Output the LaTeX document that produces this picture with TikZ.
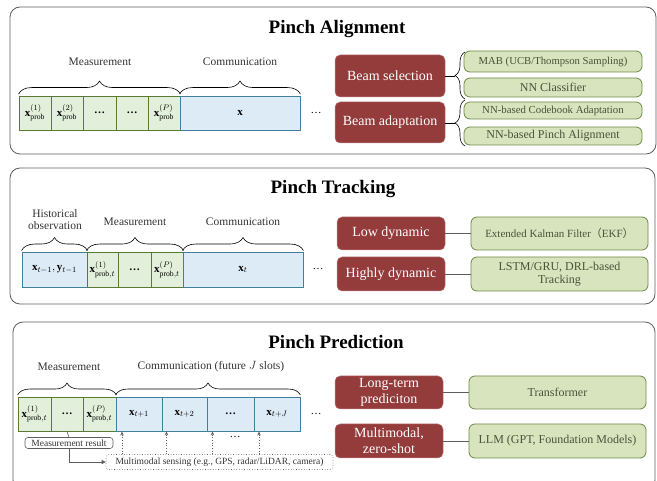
\documentclass[tikz,border=0pt]{standalone}
\usepackage{fontspec}
\setmainfont{Liberation Serif}
\newfontfamily\cjk{Noto Sans CJK SC}
\usetikzlibrary{decorations.pathreplacing,arrows.meta}
\definecolor{gcellfill}{HTML}{E2EFDA}
\definecolor{gcellborder}{HTML}{5A7A32}
\definecolor{bcellfill}{HTML}{DDEBF7}
\definecolor{bcellborder}{HTML}{41809B}
\definecolor{redfill}{HTML}{943B3B}
\definecolor{redborder}{HTML}{C08080}
\definecolor{gboxfill}{HTML}{D7E4BD}
\definecolor{gboxborder}{HTML}{6F8A47}
\definecolor{gboxtext}{HTML}{48543A}
\definecolor{framegray}{HTML}{5E5E5E}
\definecolor{lblgray}{HTML}{333333}
\begin{document}
\begin{tikzpicture}[x=1pt,y=-1pt,
  panel/.style={draw=framegray,line width=0.8pt,rounded corners=10pt},
  ptitle/.style={font=\fontsize{19}{22}\selectfont\bfseries},
  gcell/.style={draw=gcellborder,fill=gcellfill,line width=0.9pt,inner sep=0pt,minimum height=34pt,font=\fontsize{11}{13}\selectfont},
  bcell/.style={draw=bcellborder,fill=bcellfill,line width=0.9pt,inner sep=0pt,minimum height=34pt,font=\fontsize{11}{13}\selectfont},
  lbl/.style={font=\fontsize{11.5}{14}\selectfont,text=lblgray,align=center},
  dotsl/.style={font=\fontsize{11}{13}\selectfont},
  tbrace/.style={decorate,decoration={brace,amplitude=13pt},line width=0.6pt},
  rbrace/.style={decorate,decoration={brace,amplitude=10pt},line width=0.6pt},
  redbox/.style={fill=redfill,draw=redborder,line width=0.5pt,rounded corners=5pt,text=white,align=center,inner sep=1pt,font=\fontsize{14}{16}\selectfont},
  gbox/.style={fill=gboxfill,draw=gboxborder,line width=0.8pt,rounded corners=6pt,text=gboxtext,align=center,inner sep=1pt},
  conn/.style={draw=framegray,line width=0.8pt},
  smallbox/.style={draw=framegray,line width=0.6pt,rounded corners=3pt,inner sep=1pt,font=\fontsize{9.5}{11}\selectfont,text=lblgray},
  dotarrow/.style={draw=framegray,dotted,line width=0.7pt,-{Stealth[length=4pt,width=3.5pt]}}
]
\clip (0,0) rectangle (657,481);
\useasboundingbox (0,0) rectangle (657,481);

% ===== Panel 1 =====
\draw[panel] (10,7) rectangle (656,154);
\node[ptitle] (t1) at (337,29) {Pinch Alignment};
\node[gcell,minimum width=32pt] (a1) at (35,113) {$\mathbf{x}^{(1)}_{\mathrm{prob}}$};
\node[gcell,minimum width=32pt] (a2) at (67,113) {$\mathbf{x}^{(2)}_{\mathrm{prob}}$};
\node[gcell,minimum width=33pt] (a3) at (99.5,113) {\textbf{…}};
\node[gcell,minimum width=32pt] (a4) at (132,113) {\textbf{…}};
\node[gcell,minimum width=32pt] (a5) at (164,113) {$\mathbf{x}^{(P)}_{\mathrm{prob}}$};
\node[bcell,minimum width=120pt] (a6) at (240,113) {$\mathbf{x}$};
\node[dotsl] (ad) at (316,113) {…};
\draw[tbrace] ([yshift=1.5pt]a1.north west) -- ([yshift=1.5pt]a5.north east);
\draw[tbrace] ([yshift=1.5pt]a6.north west) -- ([yshift=1.5pt]a6.north east);
\node[lbl] (am) at (100,62) {Measurement};
\node[lbl] (ac) at (240,62) {Communication};

\node[redbox,minimum width=110pt,minimum height=42pt] (bs) at (390,76) {Beam selection};
\node[redbox,minimum width=110pt,minimum height=41pt] (ba) at (390,122.5) {Beam adaptation};
\node[gbox,minimum width=178pt,minimum height=21pt,font=\fontsize{10.7}{12}\selectfont] (g1) at (553,61.5) {MAB (UCB/Thompson Sampling)};
\node[gbox,minimum width=178pt,minimum height=19pt,font=\fontsize{12}{14}\selectfont] (g2) at (553,87.5) {NN Classifier};
\node[gbox,minimum width=178pt,minimum height=17pt,font=\fontsize{10.8}{12}\selectfont] (g3) at (553,110.5) {NN-based Codebook Adaptation};
\node[gbox,minimum width=178pt,minimum height=18pt,font=\fontsize{12}{14}\selectfont] (g4) at (553,136) {NN-based Pinch Alignment};
\draw[rbrace] (465,99) -- (465,52);
\draw[rbrace] (465,146) -- (465,100);
\coordinate (bt1) at (455,76);
\coordinate (bt2) at (455,123);
\draw[line width=0.6pt] (bs.east) -- (bt1);
\draw[line width=0.6pt] (ba.east |- bt2) -- (bt2);

% ===== Panel 2 =====
\draw[panel] (10,168) rectangle (655,304);
\node[ptitle] (t2) at (333,189) {Pinch Tracking};
\node[bcell,minimum width=65pt,minimum height=35pt] (h1) at (54.5,269.5) {$\mathbf{x}_{t-1},\mathbf{y}_{t-1}$};
\node[gcell,minimum width=31pt,minimum height=35pt] (h2) at (102.5,269.5) {$\mathbf{x}^{(1)}_{\mathrm{prob},t}$};
\node[gcell,minimum width=33pt,minimum height=35pt] (h3) at (134.5,269.5) {\textbf{…}};
\node[gcell,minimum width=32pt,minimum height=35pt] (h4) at (167,269.5) {$\mathbf{x}^{(P)}_{\mathrm{prob},t}$};
\node[bcell,minimum width=120pt,minimum height=35pt] (h5) at (243,269.5) {$\mathbf{x}_{t}$};
\node[dotsl] (hd) at (318,269.5) {…};
\draw[tbrace] ([yshift=1pt]h1.north west) -- ([yshift=1pt]h1.north east);
\draw[tbrace] ([yshift=1pt]h2.north west) -- ([yshift=1pt]h4.north east);
\draw[tbrace] ([yshift=1pt]h5.north west) -- ([yshift=1pt]h5.north east);
\node[lbl] (hl) at (55,220) {Historical\\[-2pt]observation};
\node[lbl] (hm) at (135,222) {Measurement};
\node[lbl] (hc) at (243,222) {Communication};

\node[redbox,minimum width=108pt,minimum height=33pt] (ld) at (391,233.5) {Low dynamic};
\node[redbox,minimum width=108pt,minimum height=34pt] (hy) at (391,274) {Highly dynamic};
\node[gbox,minimum width=177pt,minimum height=33pt,font=\fontsize{11}{13}\selectfont] (e1) at (559.5,233.5) {Extended Kalman Filter{\cjk （}EKF{\cjk ）}};
\node[gbox,minimum width=177pt,minimum height=34pt,font=\fontsize{12}{13.5}\selectfont] (e2) at (559.5,274) {LSTM/GRU, DRL-based\\Tracking};
\draw[conn] (ld) -- (e1);
\draw[conn] (hy) -- (e2);

% ===== Panel 3 =====
\draw[panel] (13,322) rectangle (655,490);
\node[ptitle] (t3) at (336,342) {Pinch Prediction};
\node[gcell,minimum width=33pt] (p1) at (34.5,414) {$\mathbf{x}^{(1)}_{\mathrm{prob},t}$};
\node[gcell,minimum width=32pt] (p2) at (67,414) {\textbf{…}};
\node[gcell,minimum width=33pt] (p3) at (99.5,414) {$\mathbf{x}^{(P)}_{\mathrm{prob},t}$};
\node[bcell,minimum width=46pt] (q1) at (139,414) {$\mathbf{x}_{t+1}$};
\node[bcell,minimum width=45pt] (q2) at (184.5,414) {$\mathbf{x}_{t+2}$};
\node[bcell,minimum width=47pt] (q3) at (230.5,414) {\textbf{…}};
\node[bcell,minimum width=46pt] (q4) at (277,414) {$\mathbf{x}_{t+J}$};
\node[dotsl] (pd) at (316,414) {…};
\draw[tbrace,decoration={amplitude=12pt}] ([yshift=1.5pt]p1.north west) -- ([yshift=1.5pt]p3.north east);
\draw[tbrace,decoration={amplitude=12pt}] ([yshift=1.5pt]q1.north west) -- ([yshift=1.5pt]q4.north east);
\node[lbl] (pm) at (69,367) {Measurement};
\node[lbl] (pc) at (211,367) {Communication (future $J$ slots)};

\node[smallbox,minimum width=88pt,minimum height=11pt] (mr) at (69,443) {Measurement result};
\node[smallbox,dotted,minimum width=227pt,minimum height=15pt] (ms) at (219.5,462) {Multimodal sensing (e.g., GPS, radar/LiDAR, camera)};
\draw[conn,line width=0.6pt] (p2.south) -- (mr.north);
\draw[conn,line width=0.6pt,-{Triangle[length=4pt,width=4pt]}] (mr.south) |- (ms.west);
\draw[dotarrow] ([xshift=-17pt]q1.south |- ms.north) -- ([xshift=-17pt]q1.south);
\draw[dotarrow] ([xshift=-18pt]q2.south |- ms.north) -- ([xshift=-18pt]q2.south);
\draw[dotarrow] ([xshift=-18pt]q3.south |- ms.north) -- ([xshift=-18pt]q3.south);
\draw[dotarrow] ([xshift=-18pt]q4.south |- ms.north) -- ([xshift=-18pt]q4.south);
\node[dotsl] (qd) at (235,437) {…};

\node[redbox,minimum width=108pt,minimum height=33pt] (lt) at (389,392.5) {Long-term\\prediciton};
\node[redbox,minimum width=108pt,minimum height=34pt] (mm) at (389,441) {Multimodal,\\zero-shot};
\node[gbox,minimum width=177pt,minimum height=33pt,font=\fontsize{12}{14}\selectfont] (tf) at (557.5,392.5) {Transformer};
\node[gbox,minimum width=177pt,minimum height=34pt,font=\fontsize{12}{14}\selectfont] (llm) at (557.5,441) {LLM (GPT, Foundation Models)};
\draw[conn] (lt) -- (tf);
\draw[conn] (mm) -- (llm);
\end{tikzpicture}
\end{document}
